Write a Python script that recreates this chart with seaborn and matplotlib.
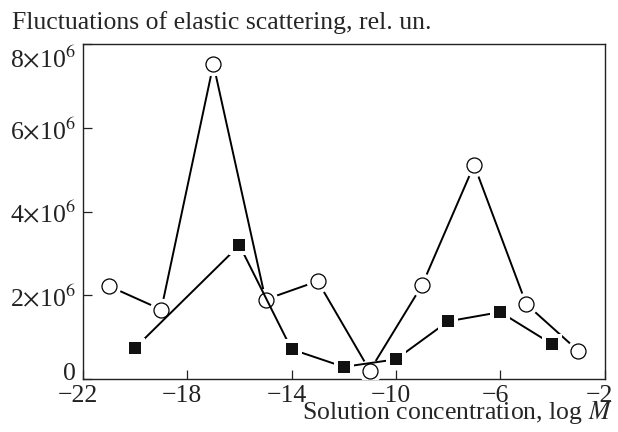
import seaborn as sns
import matplotlib
matplotlib.use("Agg")
import matplotlib.pyplot as plt
import matplotlib.transforms as mtransforms
import pandas as pd

# Data
circle_x = [-21, -19, -17, -15, -13, -11, -9, -7, -5, -3]
circle_y = [2.22e6, 1.66e6, 7.53e6, 1.90e6, 2.34e6, 0.20e6, 2.24e6, 5.12e6, 1.79e6, 0.67e6]
square_x = [-20, -16, -14, -12, -10, -8, -6, -4]
square_y = [0.745e6, 3.20e6, 0.71e6, 0.29e6, 0.47e6, 1.38e6, 1.60e6, 0.83e6]

x_ticks = [-22, -18, -14, -10, -6, -2]
y_ticks = [0, 2e6, 4e6, 6e6, 8e6]
y_tick_labels = ['0', r'2$\times$10$^6$', r'4$\times$10$^6$', r'6$\times$10$^6$', r'8$\times$10$^6$']

circles = pd.DataFrame({'x': circle_x, 'y': circle_y})
squares = pd.DataFrame({'x': square_x, 'y': square_y})

sns.set_style('ticks')
plt.rcParams['font.family'] = ['Liberation Serif', 'DejaVu Serif']
plt.rcParams['mathtext.fontset'] = 'stix'
fs = 18.5

fig = plt.figure(figsize=(6.18, 4.32), dpi=100)
ax = fig.add_axes([83 / 618, 1 - 379 / 432, (604.5 - 83) / 618, (379 - 44.5) / 432])

# open circles: line, white halo (gap), marker
sns.lineplot(data=circles, x='x', y='y', ax=ax, color='black', lw=1.4, zorder=2)
ax.scatter(circles['x'], circles['y'], s=17 ** 2, color='white', zorder=3, linewidths=0)
ax.scatter(circles['x'], circles['y'], s=10.8 ** 2, facecolor='white', edgecolor='black',
           linewidths=0.9, zorder=4)

# filled squares
sns.lineplot(data=squares, x='x', y='y', ax=ax, color='black', lw=1.4, zorder=5)
ax.scatter(squares['x'], squares['y'], s=14.5 ** 2, marker='s', color='white', zorder=6, linewidths=0)
ax.scatter(squares['x'], squares['y'], s=8.6 ** 2, marker='s', color='#111111', zorder=7, linewidths=0)

ax.set_xlim(-22, -2)
ax.set_ylim(0, 8e6)
ax.set_xticks(x_ticks)
ax.set_yticks(y_ticks)
ax.set_yticklabels(y_tick_labels)
ax.set_xlabel('')
ax.set_ylabel('')
ax.tick_params(direction='in', length=6.5, width=0.9, colors='#222222', labelsize=fs)
ax.tick_params(axis='y', pad=5)
ax.tick_params(axis='x', pad=4)
for s in ax.spines.values():
    s.set_linewidth(1.0)
    s.set_color('#222222')

# shift tick labels as in the reference
for lab in ax.get_xticklabels():
    lab.set_transform(lab.get_transform() + mtransforms.ScaledTranslation(-5 / 100, 0, fig.dpi_scale_trans))
ylabs = ax.get_yticklabels()
ylabs[0].set_transform(ylabs[0].get_transform() + mtransforms.ScaledTranslation(0, 8 / 100, fig.dpi_scale_trans))
ylabs[-1].set_transform(ylabs[-1].get_transform() + mtransforms.ScaledTranslation(0, -12 / 100, fig.dpi_scale_trans))

fig.text(12 / 618, 1 - 29 / 432, 'Fluctuations of elastic scattering, rel. un.',
         ha='left', va='baseline', fontsize=fs)
fig.text(613 / 618, 1 - 419 / 432, 'Solution concentration, log $M$',
         ha='right', va='baseline', fontsize=fs)

fig.savefig('out.png', dpi=100)
